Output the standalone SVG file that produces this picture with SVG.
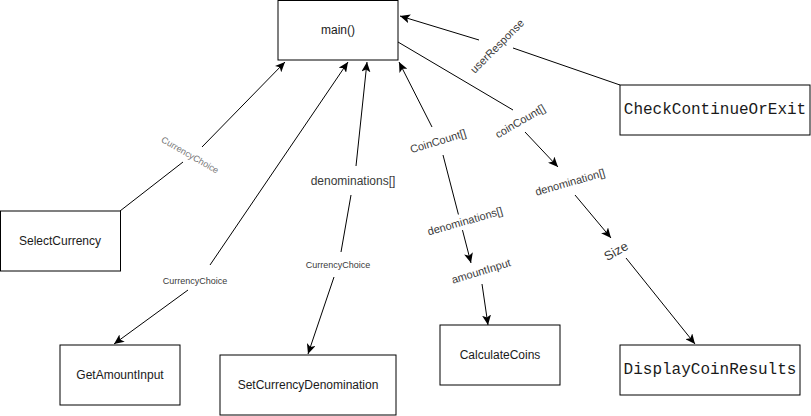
<svg xmlns="http://www.w3.org/2000/svg" width="811" height="416" viewBox="0 0 811 416">
<style>
.box{fill:#fff;stroke:#000;stroke-width:1}
.nt{font-family:"Liberation Sans",Arial,sans-serif;font-size:12px;fill:#1a1a1a;text-anchor:middle;dominant-baseline:central}
.mono{font-family:"Liberation Mono","Courier New",monospace;font-size:16px;fill:#1a1a1a;text-anchor:middle;dominant-baseline:central}
.ln{fill:none;stroke:#000;stroke-width:1}
.arr{marker-end:url(#ah)}
.lb{font-family:"Liberation Sans",Arial,sans-serif;font-size:11px;fill:#3a3a3a;text-anchor:middle;dominant-baseline:central}
.sm{font-size:9px}
.lt{fill:#777}
</style>
<defs>
<marker id="ah" markerUnits="userSpaceOnUse" markerWidth="11" markerHeight="9" refX="10" refY="4.5" orient="auto" viewBox="0 0 11 9">
<path d="M0,0 L10,4.5 L0,9 L2.5,4.5 z" fill="#000"/>
</marker>
</defs>
<rect width="811" height="416" fill="#fff"/>
<g id="connectors">
<line class="ln" x1="120" y1="211" x2="183" y2="162"/>
<line class="ln arr" x1="202" y1="147" x2="285" y2="62"/>
<line class="ln arr" x1="210" y1="265" x2="348" y2="62"/>
<line class="ln arr" x1="188" y1="290" x2="114" y2="344"/>
<line class="ln arr" x1="356" y1="166" x2="367" y2="62"/>
<line class="ln" x1="351" y1="195" x2="341" y2="252"/>
<line class="ln arr" x1="334" y1="277" x2="308" y2="354"/>
<line class="ln arr" x1="432" y1="127" x2="399" y2="62"/>
<line class="ln arr" x1="443" y1="155" x2="471" y2="263"/>
<line class="ln arr" x1="482" y1="284" x2="488" y2="325"/>
<line class="ln" x1="398" y1="42" x2="513" y2="110"/>
<line class="ln arr" x1="525" y1="132" x2="558" y2="167"/>
<line class="ln arr" x1="575" y1="195" x2="611" y2="238"/>
<line class="ln arr" x1="626" y1="258" x2="695" y2="344"/>
<line class="ln" x1="620" y1="85" x2="513" y2="48"/>
<line class="ln arr" x1="479" y1="40" x2="400" y2="16"/>
<text class="lb sm lt" transform="translate(190,155) rotate(30)">CurrencyChoice</text>
<text class="lb sm" x="195" y="281">CurrencyChoice</text>
<text class="lb" style="font-size:12px" x="353" y="181">denominations[]</text>
<text class="lb sm" x="338" y="265">CurrencyChoice</text>
<text class="lb" transform="translate(438,141) rotate(-17)">CoinCount[]</text>
<g transform="translate(465,221) rotate(-16)"><rect x="-40" y="-8" width="80" height="16" fill="#fff"/><text class="lb" x="0" y="0">denominations[]</text></g>
<text class="lb" transform="translate(481,271) rotate(-17)">amountInput</text>
<text class="lb" transform="translate(520,121) rotate(-30)">coinCount[]</text>
<text class="lb" transform="translate(570,182) rotate(-16)">denomination[]</text>
<text class="lb" style="font-size:13px" transform="translate(616,251) rotate(-30)">Size</text>
<text class="lb" transform="translate(497,46) rotate(-45)">userResponse</text>
</g>
<g id="main"><rect class="box" x="278" y="0.5" width="120" height="59.5"/><text class="nt" x="338" y="30">main()</text></g>
<g id="CheckContinueOrExit"><rect class="box" x="620" y="85" width="190" height="50"/><text class="mono" x="715" y="110">CheckContinueOrExit</text></g>
<g id="SelectCurrency"><rect class="box" x="0.5" y="211" width="120" height="60"/><text class="nt" x="60" y="241">SelectCurrency</text></g>
<g id="GetAmountInput"><rect class="box" x="60" y="345" width="120" height="60"/><text class="nt" x="120" y="375">GetAmountInput</text></g>
<g id="SetCurrencyDenomination"><rect class="box" x="220" y="355" width="176" height="60"/><text class="nt" x="308" y="385">SetCurrencyDenomination</text></g>
<g id="CalculateCoins"><rect class="box" x="440" y="325" width="120" height="60"/><text class="nt" x="500" y="355">CalculateCoins</text></g>
<g id="DisplayCoinResults"><rect class="box" x="620" y="345" width="180" height="50"/><text class="mono" x="710" y="370">DisplayCoinResults</text></g>
</svg>
